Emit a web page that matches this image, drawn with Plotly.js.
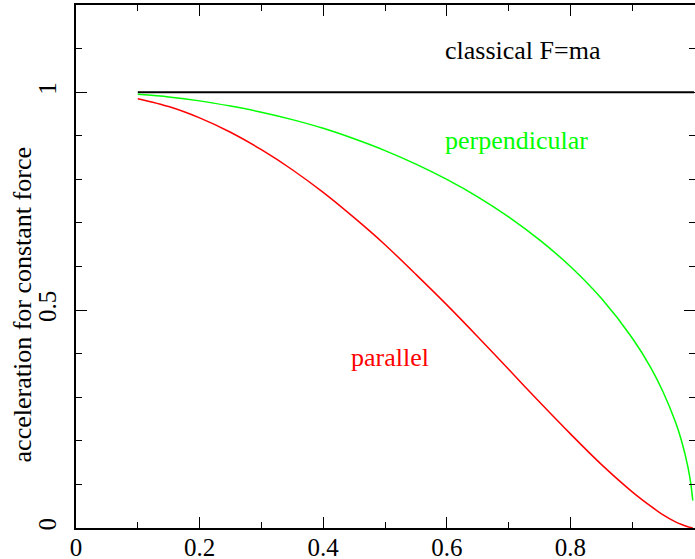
<!DOCTYPE html>
<html>
<head>
<meta charset="utf-8">
<script src="https://cdn.plot.ly/plotly-3.0.1.min.js"></script>
<style>
.modebar-container{display:none !important;}
</style>
</head>
<body style="margin:0">
<div id="chart"></div>
<script>
// speed v/c (x values)
const speed = [0.1, 0.15, 0.2, 0.25, 0.3, 0.35, 0.4, 0.45, 0.5, 0.55, 0.6, 0.65, 0.7, 0.75, 0.8, 0.85, 0.9, 0.93, 0.95, 0.97, 0.98, 0.99, 0.995, 0.998];
// acceleration, force perpendicular to velocity
const perpendicular = [0.995, 0.989, 0.980, 0.968, 0.954, 0.937, 0.917, 0.893, 0.866, 0.835, 0.800, 0.760, 0.714, 0.661, 0.600, 0.527, 0.436, 0.368, 0.312, 0.243, 0.199, 0.141, 0.100, 0.063];
// acceleration, force parallel to velocity
const parallel = [0.985, 0.967, 0.941, 0.908, 0.868, 0.822, 0.770, 0.712, 0.650, 0.582, 0.512, 0.439, 0.364, 0.289, 0.216, 0.146, 0.083, 0.050, 0.030, 0.014, 0.008, 0.003, 0.001, 0.000];
// classical F=ma
const classicalX = [0.1, 1.0];
const classicalY = [1, 1];
// labels
const xTickVals = [0, 0.2, 0.4, 0.6, 0.8, 1];
const xTickText = ["0", "0.2", "0.4", "0.6", "0.8", "1"];
const yTickVals = [0, 0.5, 1];
const yTickText = ["0", "0.5", "1"];
const yTitle = "acceleration for constant force";
const labelClassical = "classical F=ma";
const labelPerp = "perpendicular";
const labelPar = "parallel";

const traces = [
  {x: classicalX, y: classicalY, mode: "lines", line: {color: "#000000", width: 2}},
  {x: speed, y: perpendicular, mode: "lines", line: {color: "#00ff00", width: 1.5, shape: "spline", smoothing: 0.8}},
  {x: speed, y: parallel, mode: "lines", line: {color: "#ff0000", width: 1.5, shape: "spline", smoothing: 0.8}}
];

const layout = {
  width: 695, height: 559,
  margin: {l: 76, r: 0, t: 5, b: 31, pad: 0},
  showlegend: false,
  xaxis: {
    showgrid: false, zeroline: false, showline: true, linecolor: "#000000", linewidth: 1.5,
    mirror: "ticks", ticks: "inside", ticklen: 11, tickwidth: 1.2, tickcolor: "#000000",
    tickfont: {family: "Liberation Serif", size: 25, color: "#000000"},
    range: [0, 1.0016], tickvals: xTickVals, ticktext: xTickText,
    ticklabelstandoff: -4,
    minor: {ticks: "inside", ticklen: 6, tickwidth: 1.2, tickcolor: "#000000", dtick: 0.1, tick0: 0}
  },
  yaxis: {
    showgrid: false, zeroline: false, showline: true, linecolor: "#000000", linewidth: 1.5,
    mirror: "ticks", ticks: "inside", ticklen: 11, tickwidth: 1.2, tickcolor: "#000000",
    tickfont: {family: "Liberation Serif", size: 25, color: "#000000"},
    range: [0, 1.2], tickvals: yTickVals, ticktext: yTickText, tickangle: -90,
    ticklabelstandoff: 8,
    minor: {ticks: "inside", ticklen: 6, tickwidth: 1.2, tickcolor: "#000000", dtick: 0.1, tick0: 0}
  },
  annotations: [
    {text: yTitle, xref: "paper", yref: "y", x: -0.087, y: 0.511, xanchor: "center", yanchor: "middle", textangle: -90, showarrow: false, font: {family: "Liberation Serif", size: 26, color: "#000000"}},
    {text: labelClassical, xref: "x", yref: "y", x: 0.724, y: 1.096, xanchor: "center", yanchor: "middle", showarrow: false, font: {family: "Liberation Serif", size: 26, color: "#000000"}},
    {text: labelPerp, xref: "x", yref: "y", x: 0.713, y: 0.889, xanchor: "center", yanchor: "middle", showarrow: false, font: {family: "Liberation Serif", size: 26, color: "#00ff00"}},
    {text: labelPar, xref: "x", yref: "y", x: 0.508, y: 0.392, xanchor: "center", yanchor: "middle", showarrow: false, font: {family: "Liberation Serif", size: 26, color: "#ff0000"}}
  ]
};

Plotly.newPlot("chart", traces, layout).then(function (gd) {
  gd.querySelectorAll("text").forEach(function (t) {
    t.style.fontFamily = "'Liberation Serif', 'Times New Roman', serif";
  });
});
</script>
</body>
</html>
